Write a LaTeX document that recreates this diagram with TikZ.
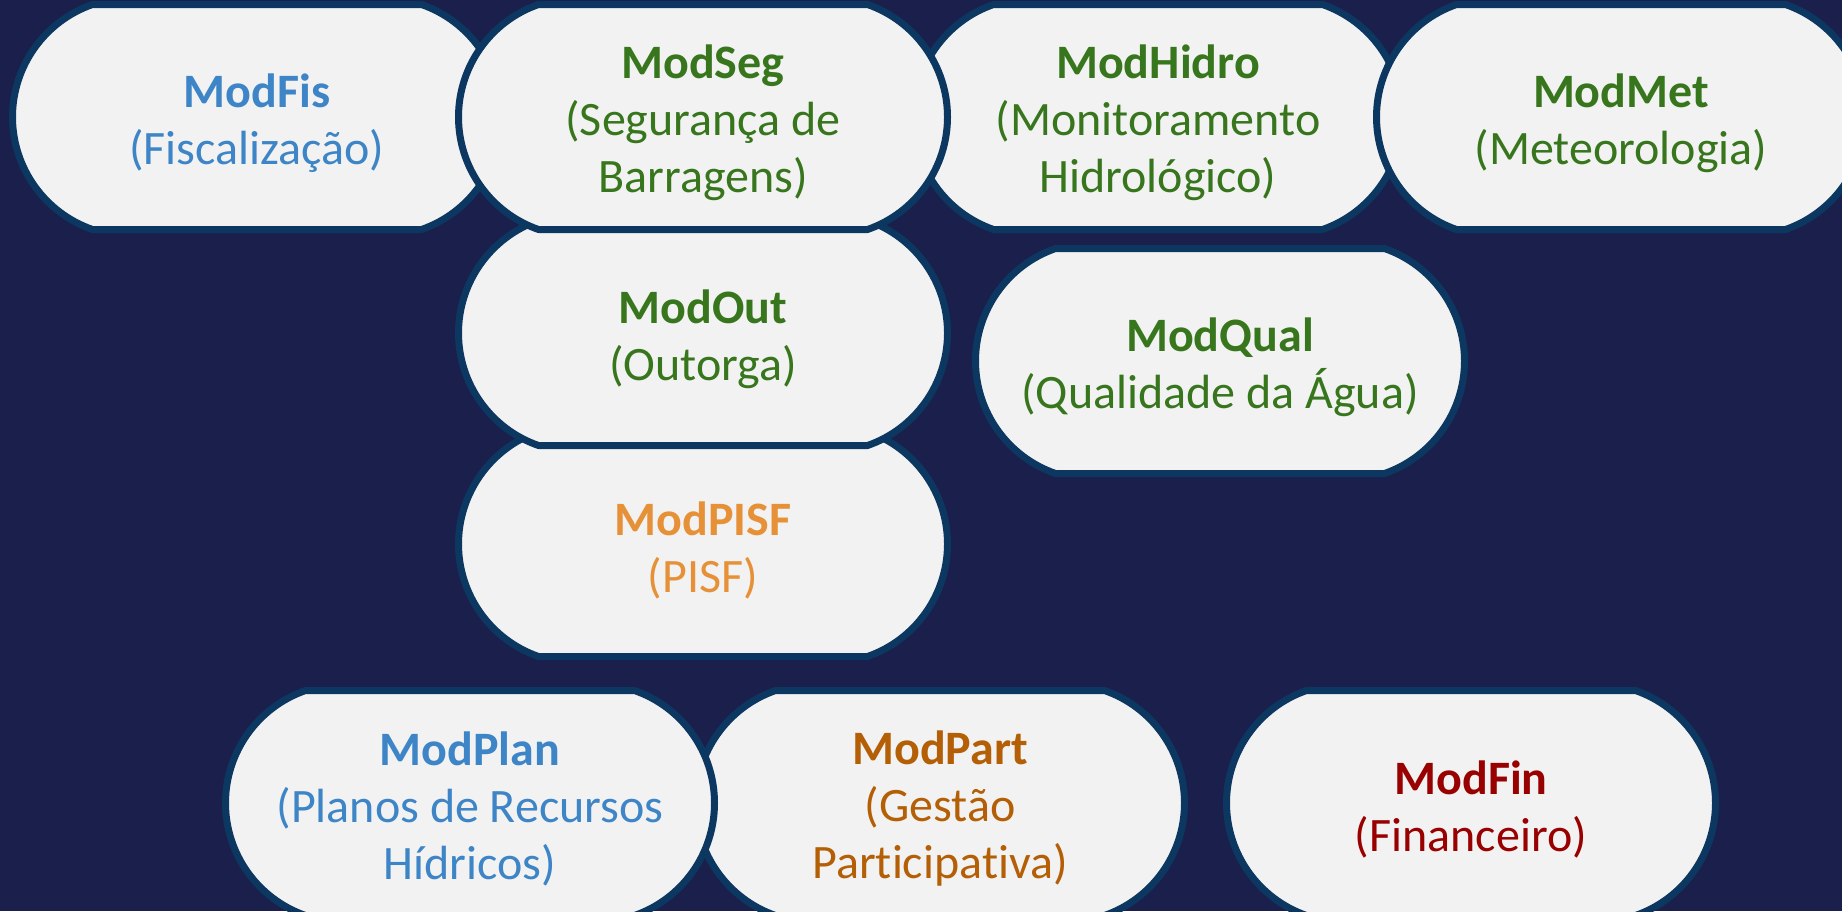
\documentclass[tikz,border=0pt]{standalone}
\usepackage{fontspec}
\setmainfont{Carlito}[Ligatures=NoCommon]
\usepackage{tikz}
\usetikzlibrary{positioning}

\definecolor{bgnavy}{RGB}{27,31,75}
\definecolor{boxedge}{RGB}{11,55,97}
\definecolor{boxfill}{RGB}{242,242,242}
\definecolor{modblue}{RGB}{61,133,198}
\definecolor{modgreen}{RGB}{56,118,29}
\definecolor{modorange}{RGB}{230,145,56}
\definecolor{modbrown}{RGB}{180,95,6}
\definecolor{modred}{RGB}{153,0,0}

\tikzset{
	modshape/.pic={
		\filldraw [fill=boxfill,draw=boxedge,line width=3.5pt,line join=round]
		(-164.5,-112.5) -- (164.5,-112.5)
		.. controls (212.4,-95.9) and (244.5,-50.7) .. (244.5,0)
		.. controls (244.5,50.7) and (212.4,95.9) .. (164.5,112.5)
		-- (-164.5,112.5)
		.. controls (-212.4,95.9) and (-244.5,50.7) .. (-244.5,0)
		.. controls (-244.5,-50.7) and (-212.4,-95.9) .. cycle;
	},
	modtext/.style={align=center,inner sep=0pt,yshift=-3pt,font=\fontsize{24}{28.5}\selectfont}
}

\begin{document}
\begin{tikzpicture} [x=0.5pt,y=-0.5pt]
	
	\fill [bgnavy] (0,0) rectangle (1842,911);
	\useasboundingbox (0,0) rectangle (1842,911);
	
	
	\pic at (703,544) {modshape};
	\node (PISF) [modtext,text=modorange] at (703,544) {\textbf{ModPISF}\\(PISF)};
	
	\pic at (703,333) {modshape};
	\node (Out) [modtext,text=modgreen] at (703,333) {\textbf{ModOut}\\(Outorga)};
	
	\pic at (257,117) {modshape};
	\node (Fis) [modtext,text=modblue] at (257,117) {\textbf{ModFis}\\(Fiscalização)};
	
	\pic at (1158,117) {modshape};
	\node (Hidro) [modtext,text=modgreen] at (1158,117) {\textbf{ModHidro}\\(Monitoramento\\Hidrológico)};
	
	\pic at (1621,117) {modshape};
	\node (Met) [modtext,text=modgreen] at (1621,117) {\textbf{ModMet}\\(Meteorologia)};
	
	\pic at (703,117) {modshape};
	\node (Seg) [modtext,text=modgreen] at (703,117) {\textbf{ModSeg}\\(Segurança de\\Barragens)};
	
	\pic at (1220,361) {modshape};
	\node (Qual) [modtext,text=modgreen] at (1220,361) {\textbf{ModQual}\\(Qualidade da Água)};
	
	
	\pic at (940,803) {modshape};
	\node (Part) [modtext,text=modbrown] at (940,803) {\textbf{ModPart}\\(Gestão\\Participativa)};
	
	\pic at (470,803) {modshape};
	\node (Plan) [modtext,text=modblue] at (470,803) {\textbf{ModPlan}\\(Planos de Recursos\\Hídricos)};
	
	\pic at (1471,803) {modshape};
	\node (Fin) [modtext,text=modred] at (1471,803) {\textbf{ModFin}\\(Financeiro)};
	
\end{tikzpicture}
\end{document}
